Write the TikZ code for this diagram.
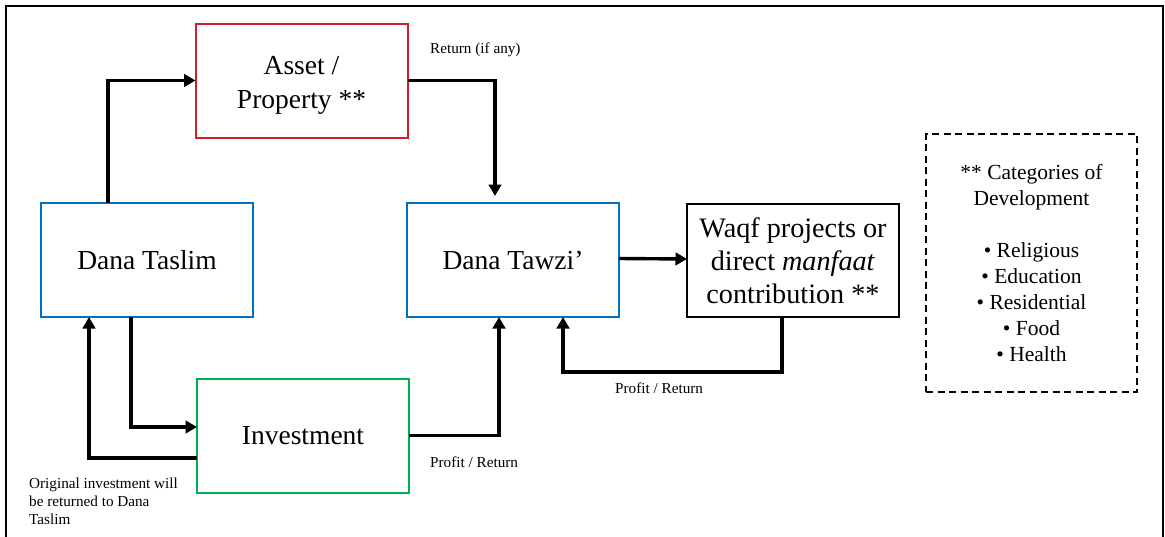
\documentclass[tikz,border=0pt]{standalone}
\usepackage{fontspec}
\setmainfont{Liberation Serif}
\usetikzlibrary{arrows.meta}

\definecolor{boxblue}{RGB}{0,112,192}
\definecolor{boxred}{RGB}{210,30,40}
\definecolor{boxgreen}{RGB}{0,176,80}

\tikzset{
  flowbox/.style={draw, line width=2pt, rectangle, inner sep=0pt, outer sep=0pt,
    minimum width=212pt, minimum height=114pt, align=center,
    font=\fontsize{27.5}{34}\selectfont},
  flowarrow/.style={line width=3.4pt, -{Triangle[length=11.5pt,width=12.5pt]}},
  smalllabel/.style={inner sep=0pt, font=\fontsize{15.2}{18}\selectfont},
  notebox/.style={draw, line width=2.2pt, dash pattern=on 7pt off 4.5pt,
    inner sep=0pt, minimum width=211pt, minimum height=258pt, align=center,
    font=\fontsize{21.5}{26}\selectfont}
}

\begin{document}
\begin{tikzpicture}[x=1pt, y=-1pt]
\useasboundingbox (0,0) rectangle (1165,536);

% frame around the whole figure
\draw[line width=2.2pt] (6,560) -- (6,6) -- (1163,6) -- (1163,560);

% main boxes
\node[flowbox, draw=boxblue]  (taslim) at (147,260)   {Dana Taslim};
\node[flowbox, draw=boxred]   (asset)  at (301.5,80.5)
  {\raisebox{-4pt}[\height][\depth]{\begin{tabular}{@{}c@{}}Asset /\\[0pt]Property **\end{tabular}}};
\node[flowbox, draw=boxblue]  (tawzi)  at (513,260)   {Dana Tawzi’};
\node[flowbox, draw=boxgreen] (invest) at (303,435.5) {Investment};
\node[flowbox, draw=black, line width=2.3pt, minimum height=113pt,
      font=\fontsize{28.2}{33}\selectfont] (waqf) at (793,260.5)
      {Waqf projects or\\direct \textit{manfaat}\\contribution **};

% categories note
\node[notebox] (cats) at (1031.5,263)
  {** Categories of\\Development\\[26pt]
   \textbullet\ Religious\\\textbullet\ Education\\\textbullet\ Residential\\
   \textbullet\ Food\\\textbullet\ Health};

% connectors
\draw[flowarrow] ([xshift=67pt]taslim.north west) |- (asset.west);
\draw[flowarrow, shorten >=7pt] (asset.east) -| ([xshift=-18pt]tawzi.north);
\draw[flowarrow] ([yshift=1.5pt]tawzi.east) -- ([yshift=1.5pt]waqf.west);
\draw[flowarrow] ([xshift=-11pt]waqf.south) -- ++(0,55) -| ([xshift=50pt]tawzi.south);
\draw[flowarrow] (invest.east) -| ([xshift=-14pt]tawzi.south);
\draw[flowarrow] ([xshift=90pt]taslim.south west) |- ([yshift=8.5pt]invest.west);
\draw[flowarrow] ([yshift=-22.5pt]invest.west) -| ([xshift=48pt]taslim.south west);

% connector labels
\node[smalllabel, anchor=west] (lblreturn) at (430,50) {Return (if any)};
\node[smalllabel, anchor=west] (lblprofitA) at (430,462) {Profit / Return};
\node[smalllabel, anchor=west] (lblprofitB) at (615,388) {Profit / Return};
\node[smalllabel, anchor=north west, align=left] (lbloriginal) at (29,478)
  {Original investment will\\be returned to Dana\\Taslim};
\end{tikzpicture}
\end{document}
